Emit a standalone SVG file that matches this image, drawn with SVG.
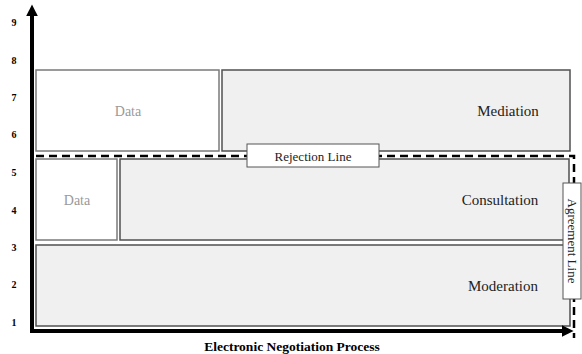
<svg xmlns="http://www.w3.org/2000/svg" width="582" height="354" viewBox="0 0 582 354">
  <style>
    .axis { stroke: #000; stroke-width: 4; fill: none; }
    .tick { font-family: "Liberation Serif", serif; font-size: 10px; font-weight: bold; fill: #000; text-anchor: middle; dominant-baseline: central; }
    .data { fill: #fff; stroke: #7a7a7a; stroke-width: 1.5; }
    .level { fill: #f0f0f0; stroke: #505050; stroke-width: 1.5; }
    .label { font-family: "Liberation Serif", serif; font-size: 15px; fill: #222; text-anchor: middle; dominant-baseline: central; }
    .dlabel { font-family: "Liberation Serif", serif; font-size: 14px; fill: #999; text-anchor: middle; dominant-baseline: central; }
    .tag { fill: #fff; stroke: #555; stroke-width: 1; }
    .tagtext { font-family: "Liberation Serif", serif; font-size: 13px; fill: #222; text-anchor: middle; dominant-baseline: central; }
    .dash { stroke: #000; stroke-width: 2.5; stroke-dasharray: 8 5; fill: none; }
  </style>
  <defs>
    <marker id="arrow" viewBox="0 0 10 10" refX="2" refY="5" markerWidth="3" markerHeight="3" orient="auto" markerUnits="strokeWidth">
      <path d="M0,0 L10,5 L0,10 z" fill="#000"/>
    </marker>
  </defs>

  <rect width="582" height="354" fill="#fff"/>

  <!-- level bands -->
  <g id="data-top"><rect class="data" x="36" y="70" width="183" height="81"/><text class="dlabel" x="128" y="111">Data</text></g>
  <g id="mediation"><rect class="level" x="222" y="70" width="348" height="81"/><text class="label" x="508" y="111">Mediation</text></g>
  <g id="data-mid"><rect class="data" x="36" y="159" width="81" height="81"/><text class="dlabel" x="77" y="200">Data</text></g>
  <g id="consultation"><rect class="level" x="120" y="159" width="449" height="81"/><text class="label" x="500" y="200">Consultation</text></g>
  <g id="moderation"><rect class="level" x="36" y="245" width="534" height="81"/><text class="label" x="503" y="286">Moderation</text></g>

  <!-- boundary lines and axes -->
  <g id="connectors">
    <path class="dash" d="M36,156 H574 V338"/>
    <path class="axis" d="M32,333 V14" marker-end="url(#arrow)"/>
    <path class="axis" d="M30,331 H564" marker-end="url(#arrow)"/>
  </g>

  <g id="rejection-line"><rect class="tag" x="247" y="144" width="132" height="23"/><text class="tagtext" x="313" y="156">Rejection Line</text></g>
  <g id="agreement-line"><rect class="tag" x="563" y="183" width="18" height="116"/><text class="tagtext" transform="translate(572,241) rotate(90)">Agreement Line</text></g>

  <!-- axis scale -->
  <g id="y-scale">
    <text class="tick" x="14" y="322">1</text>
    <text class="tick" x="14" y="284">2</text>
    <text class="tick" x="14" y="247">3</text>
    <text class="tick" x="14" y="210">4</text>
    <text class="tick" x="14" y="172">5</text>
    <text class="tick" x="14" y="134">6</text>
    <text class="tick" x="14" y="97">7</text>
    <text class="tick" x="14" y="60">8</text>
    <text class="tick" x="14" y="22">9</text>
  </g>
  <text id="x-title" x="292" y="346" font-family="'Liberation Serif', serif" font-size="13.5" font-weight="bold" text-anchor="middle" dominant-baseline="central">Electronic Negotiation Process</text>
</svg>
